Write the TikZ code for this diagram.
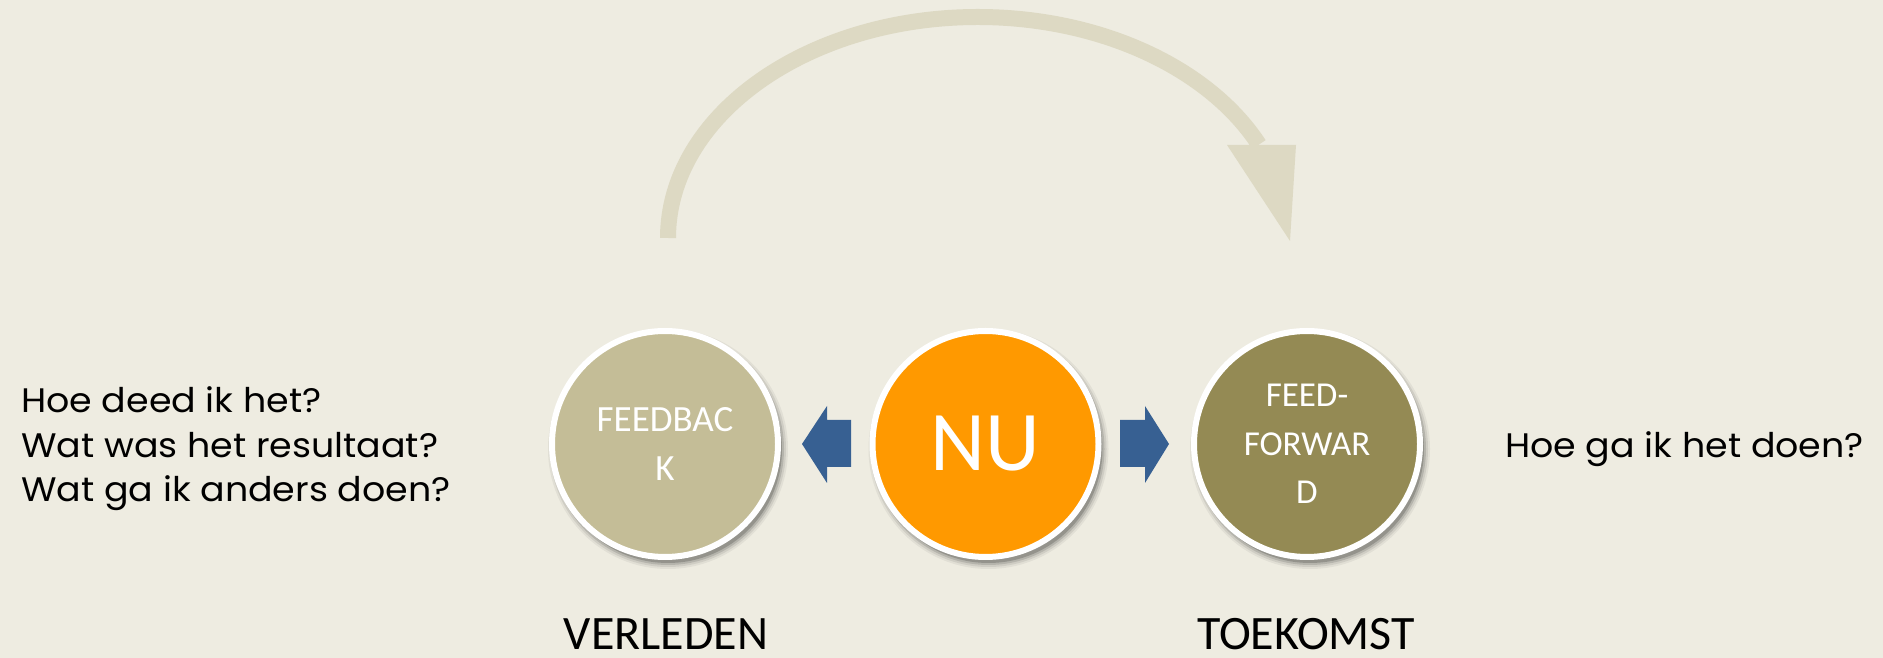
\documentclass[tikz,border=0pt]{standalone}
\usepackage{fontspec}
\setmainfont{Carlito}
\newfontfamily\gothic[FakeStretch=1.07]{Poppins}
\usetikzlibrary{calc}
\definecolor{bg}{HTML}{EEECE1}
\definecolor{arcc}{HTML}{DDD9C3}
\definecolor{fbcol}{HTML}{C4BD97}
\definecolor{nucol}{HTML}{FF9900}
\definecolor{ffcol}{HTML}{948A54}
\definecolor{bluea}{HTML}{376092}
\begin{document}
\begin{tikzpicture}[x=1pt,y=1pt,
  circ/.style={circle, draw=white, line width=6pt, minimum size=226pt, inner sep=0pt,
    text=white, font=\fontsize{37}{48}\selectfont, align=center},
  qtext/.style={anchor=base west, inner sep=0pt, font=\gothic\fontsize{34}{40}\selectfont, text=black},
  ltext/.style={anchor=base, inner sep=0pt, font=\fontsize{48}{50}\selectfont, text=black},
  blockarrow/.style={fill=bluea},
  shade/.style={fill=black}
]
\fill[bg] (0,0) rectangle (1883,658);
\useasboundingbox (0,0) rectangle (1883,658);

% centres
\coordinate (cfb) at (665,214);
\coordinate (cnu) at (985.5,214);
\coordinate (cff) at (1307,214);

% shadows
\foreach \c in {cfb,cnu,cff}{
  \foreach \r/\o in {120/0.05,118/0.08,116/0.12,114/0.18}{
    \fill[shade, opacity=\o] ($(\c)+(3,-5)$) circle (\r);
  }
}

% circles
\node[circ, fill=fbcol] (fb) at (cfb) {FEEDBAC\\K};
\node[circ, fill=nucol, font=\fontsize{85}{90}\selectfont] (nu) at (cnu) {\raisebox{-7pt}{NU}};
\node[circ, fill=ffcol, font=\fontsize{35}{48.5}\selectfont] (ff) at (cff) {FEED-\\FORWAR\\D};

% block arrows
\fill[blockarrow] (802,214) -- (827,252) -- (827,238) -- (851,238) -- (851,191) -- (827,191) -- (827,175) -- cycle;
\fill[blockarrow] (1169,214) -- (1145,252) -- (1145,238) -- (1120,238) -- (1120,191) -- (1145,191) -- (1145,175) -- cycle;

% curved arrow
\coordinate (arcstart) at (668,420);
\draw[arcc, line width=16pt] (arcstart) arc[start angle=180, end angle=25, x radius=310, y radius=221] coordinate (arcend);
\fill[arcc] (1227,513) -- (1296,513) -- (1290,417) -- cycle;

% texts
\node[qtext] (q1) at (21,245) {Hoe deed ik het?};
\node[qtext] (q2) at (21,200) {Wat was het resultaat?};
\node[qtext] (q3) at (21,156) {Wat ga ik anders doen?};
\node[qtext] (q4) at (1505,200) {Hoe ga ik het doen?};

\node[ltext] (verleden) at (666,8) {VERLEDEN};
\node[ltext] (toekomst) at (1306,8) {TOEKOMST};
\end{tikzpicture}
\end{document}
